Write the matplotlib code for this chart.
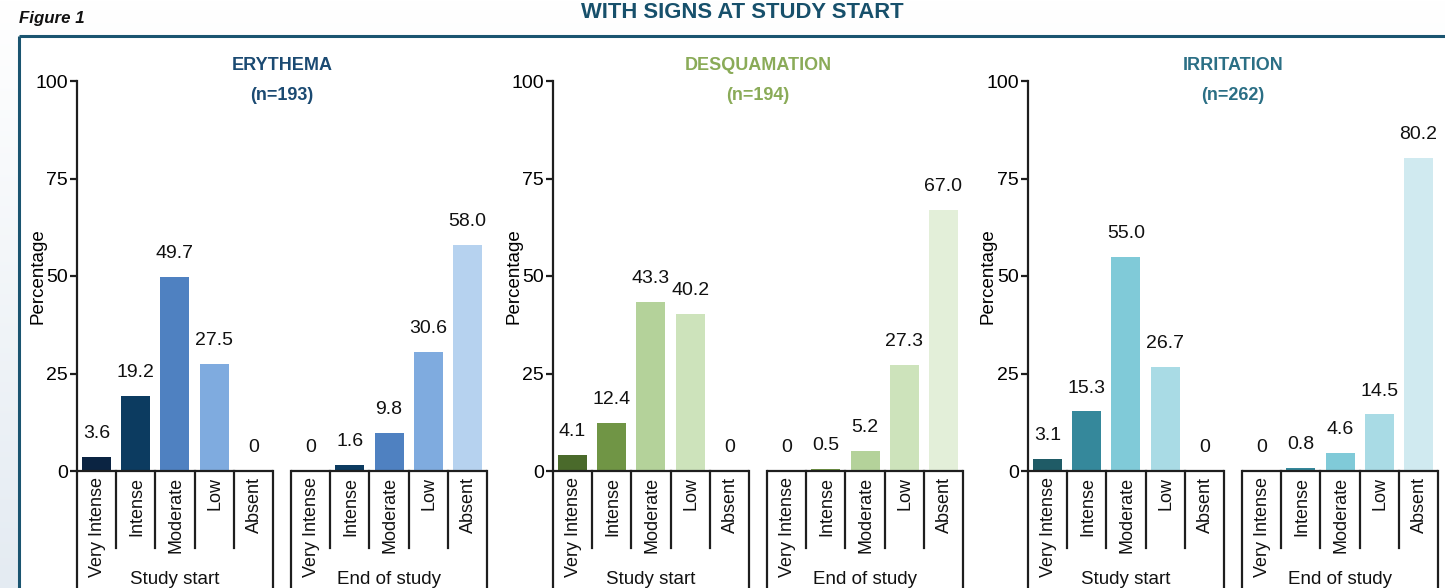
import matplotlib
matplotlib.use("Agg")
import matplotlib.pyplot as plt
import numpy as np
from matplotlib.patches import Rectangle

plt.rcParams['font.family'] = ['Liberation Sans', 'DejaVu Sans']

# ---------------- data ----------------
categories = ['Very Intense', 'Intense', 'Moderate', 'Low', 'Absent']
groups = ['Study start', 'End of study']

panel_titles = ['ERYTHEMA', 'DESQUAMATION', 'IRRITATION']
panel_n = ['(n=193)', '(n=194)', '(n=262)']

erythema_start = [3.6, 19.2, 49.7, 27.5, 0]
erythema_end = [0, 1.6, 9.8, 30.6, 58.0]
desquamation_start = [4.1, 12.4, 43.3, 40.2, 0]
desquamation_end = [0, 0.5, 5.2, 27.3, 67.0]
irritation_start = [3.1, 15.3, 55.0, 26.7, 0]
irritation_end = [0, 0.8, 4.6, 14.5, 80.2]

yticks = [0, 25, 50, 75, 100]

# ---------------- styles ----------------
title_colors = ['#1b4a72', '#8aab58', '#2b6f85']
bar_colors = [
    ['#0b2442', '#0c3b60', '#4f81c1', '#7fabdf', '#b6d2ef'],
    ['#4a6a2b', '#709545', '#b4d29a', '#cde3bb', '#e3efd9'],
    ['#1f5b66', '#35889b', '#80cad8', '#a9dbe5', '#d0eaf0'],
]
panel_data = [
    (erythema_start, erythema_end),
    (desquamation_start, desquamation_end),
    (irritation_start, irritation_end),
]

W, H = 1445, 588
fig = plt.figure(figsize=(W / 100, H / 100), dpi=100)

# background gradient + frame
bg = fig.add_axes([0, 0, 1, 1], zorder=-10)
bg.set_xlim(0, W)
bg.set_ylim(H, 0)
bg.axis('off')
grad = np.linspace(0, 1, 256).reshape(-1, 1)
top = np.array([1.0, 1.0, 1.0])
bot = np.array([0xe4, 0xeb, 0xf2]) / 255
img = top[None, None, :] * (1 - grad[..., None]) + bot[None, None, :] * grad[..., None]
bg.imshow(img, extent=[0, W, H, 0], aspect='auto')
bg.add_patch(Rectangle((18.5, 35.5), W, H, facecolor='white', edgecolor='none'))
bg.plot([18.5, W], [35.5, 35.5], color='#1a5470', lw=2.2, solid_capstyle='butt')
bg.plot([18.5, 18.5], [35.5, H], color='#1a5470', lw=2.2, solid_capstyle='butt')

fig.text(19 / W, 1 - 18 / H, 'Figure 1', fontsize=12.2, fontweight='bold',
         fontstyle='italic', ha='left', va='center', color='#111111')
fig.text(742 / W, 1 - 13 / H, 'WITH SIGNS AT STUDY START', fontsize=15.8,
         fontweight='bold', ha='center', va='center', color='#17506b')

def fx(px):
    return px / W

def fy(py):
    return 1 - py / H

axes_left_px = [77, 553, 1028]
axes_w_px = 410
ax_top_px, ax_bot_px = 81, 471
ppu = (ax_bot_px - ax_top_px) / 100.0  # px per data unit in y

gap = 0.46
offsets = [0.0, 5.0 + gap]
xmin, xmax = -0.5, offsets[1] + 4.5
line_c = '#1e1e1e'
lw = 1.6

for p in range(3):
    left = axes_left_px[p]
    ax = fig.add_axes([fx(left), fy(ax_bot_px), axes_w_px / W,
                       (ax_bot_px - ax_top_px) / H])
    ax.set_xlim(xmin, xmax)
    ax.set_ylim(0, 100)
    ax.patch.set_alpha(0)
    for s in ['top', 'right', 'bottom']:
        ax.spines[s].set_visible(False)
    ax.spines['left'].set_linewidth(lw)
    ax.spines['left'].set_color(line_c)
    ax.set_xticks([])
    ax.set_yticks(yticks)
    ax.tick_params(axis='y', direction='out', length=5, width=lw,
                   labelsize=14, color=line_c, pad=1.5)
    ax.set_ylabel('Percentage', fontsize=13.5)
    ax.yaxis.set_label_coords(-31 / axes_w_px, 0.5)

    for g in range(2):
        vals = panel_data[p][g]
        xs = np.arange(len(categories)) + offsets[g]
        ax.bar(xs, vals, width=0.74, color=bar_colors[p], zorder=2)
        for x, v in zip(xs, vals):
            lab = '0' if v == 0 else f'{v:.1f}'
            ax.annotate(lab, (x, v), xytext=(0, 13.5), textcoords='offset points',
                        ha='center', va='baseline', fontsize=14, color='#111111')
        # baseline
        x0, x1 = offsets[g] - 0.5, offsets[g] + 4.5
        ax.plot([x0, x1], [0, 0], color=line_c, lw=lw, clip_on=False, zorder=3,
                solid_capstyle='butt')
        # internal separators
        for k in range(1, 5):
            xb = offsets[g] - 0.5 + k
            ax.plot([xb, xb], [0, -(548 - ax_bot_px) / ppu], color=line_c, lw=lw,
                    clip_on=False, zorder=3)
        # outer edges
        for xb in (x0, x1):
            ax.plot([xb, xb], [0, -(H + 5 - ax_bot_px) / ppu], color=line_c, lw=lw,
                    clip_on=False, zorder=3)
        # category labels
        for x, c in zip(xs, categories):
            ax.text(x + 0.03, -(477 - ax_bot_px) / ppu, c, rotation=90, ha='center',
                    va='top', fontsize=13, color='#111111', clip_on=False)
        ax.text(offsets[g] + 2, -(579 - ax_bot_px) / ppu, groups[g], ha='center',
                va='center', fontsize=13.5, color='#111111', clip_on=False)

    cx = (xmin + xmax) / 2
    ax.text(cx, (ax_bot_px - 65.5) / ppu, panel_titles[p], ha='center', va='center',
            fontsize=13, fontweight='bold', color=title_colors[p])
    ax.text(cx, (ax_bot_px - 96) / ppu, panel_n[p], ha='center', va='center',
            fontsize=13, fontweight='bold', color=title_colors[p])

fig.savefig('out.png', dpi=100)
